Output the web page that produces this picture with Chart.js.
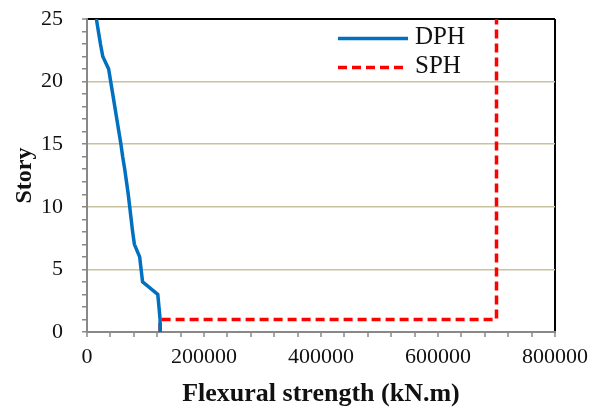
<!DOCTYPE html>
<html>
<head>
<meta charset="utf-8">
<script src="https://cdn.jsdelivr.net/npm/chart.js@4"></script>
<style>
    html, body { margin: 0; padding: 0; background: #fff; }
    #wrap { width: 593px; height: 412px; }
</style>
</head>
<body>
<div id="wrap"><canvas id="chart-flexural"></canvas></div>
<script>
// ════════════════════════════════════════
// DATA
// ════════════════════════════════════════

const SERIES_LABELS = ['DPH', 'SPH'];

// DPH: flexural strength per story (kN.m)
const dphStory = [0, 1, 2, 3, 4, 5, 6, 7, 8, 9, 10, 11, 12, 13, 14, 15, 16, 17, 18, 19, 20, 21, 22, 23, 24, 25];
const dphStrength = [125000, 125000, 123000, 121000, 95000, 92500, 90000, 81000, 78000, 75500, 73000, 70500,
    67500, 64500, 61000, 58000, 54500, 51000, 47500, 44000, 40500, 37000, 27000, 23000, 19500, 16000];

// SPH: step profile
const sphStory = [0, 1, 1, 25];
const sphStrength = [125000, 125000, 700000, 700000];

const X_TICK_STEP = 40000, X_LABEL_STEP = 200000, X_MAX = 800000;
const Y_TICK_STEP = 1, Y_LABEL_STEP = 5, Y_MAX = 25;

const SERIF = "'Liberation Serif', 'Times New Roman', serif";
const GRID_TAN = '#C9C29E';
const AXIS_GREY = '#888888';

const toPoints = (xs, ys) => xs.map((x, i) => ({ x, y: ys[i] }));

// ════════════════════════════════════════
// LEGEND (two stacked line samples, top right)
// ════════════════════════════════════════

const lineLegend = {
    id: 'lineLegend',
    afterDatasetsDraw(chart) {
        const { ctx, chartArea } = chart;
        const x0 = chartArea.right - 217;
        const x1 = chartArea.right - 147;
        const rows = [chartArea.top + 19.5, chartArea.top + 48.5];
        ctx.save();
        chart.data.datasets.forEach((ds, i) => {
            const y = rows[i];
            ctx.beginPath();
            ctx.strokeStyle = ds.borderColor;
            ctx.lineWidth = ds.borderWidth;
            ctx.setLineDash(ds.borderDash || []);
            ctx.moveTo(x0, y);
            ctx.lineTo(x1, y);
            ctx.stroke();
            ctx.setLineDash([]);
            ctx.fillStyle = '#111';
            ctx.font = `25px ${SERIF}`;
            ctx.textBaseline = 'middle';
            ctx.fillText(ds.label, x1 + 7, y - 1);
        });
        ctx.restore();
    }
};

// ════════════════════════════════════════
// CHART
// ════════════════════════════════════════

new Chart(document.getElementById('chart-flexural'), {
    type: 'scatter',
    data: {
        datasets: [
            {
                label: SERIES_LABELS[0],
                data: toPoints(dphStrength, dphStory),
                showLine: true,
                borderColor: '#0070C0',
                borderWidth: 3.5,
                pointRadius: 0,
                tension: 0,
            },
            {
                label: SERIES_LABELS[1],
                data: toPoints(sphStrength, sphStory),
                showLine: true,
                borderColor: '#FF0000',
                borderWidth: 3.5,
                borderDash: [9, 5],
                pointRadius: 0,
                tension: 0,
            }
        ]
    },
    options: {
        responsive: true,
        maintainAspectRatio: false,
        animation: false,
        layout: { padding: { top: 19, right: 38, left: 0, bottom: 0 } },
        plugins: {
            legend: { display: false },
            tooltip: { enabled: false },
        },
        scales: {
            x: {
                type: 'linear',
                min: 0,
                max: X_MAX,
                afterFit: s => {
                    s.height = 80;
                    s.paddingLeft = 0;
                    s.paddingRight = 0;
                },
                ticks: {
                    stepSize: X_TICK_STEP,
                    autoSkip: false,
                    maxRotation: 0,
                    padding: 7,
                    color: '#111',
                    font: { family: SERIF, size: 22 },
                    callback: v => v % X_LABEL_STEP === 0 ? v : '',
                },
                grid: {
                    color: c => c.tick && c.tick.value === X_MAX ? '#000' : 'transparent',
                    lineWidth: 2,
                    tickColor: AXIS_GREY,
                    tickLength: 5,
                    tickWidth: 1.5,
                },
                border: { color: AXIS_GREY, width: 2 },
                title: {
                    display: true,
                    text: 'Flexural strength (kN.m)',
                    color: '#111',
                    font: { family: SERIF, size: 26, weight: 'bold', lineHeight: 1.2 },
                    padding: { top: 0, bottom: 2 },
                },
            },
            y: {
                type: 'linear',
                min: 0,
                max: Y_MAX,
                afterFit: s => {
                    s.width = 87;
                    s.paddingTop = 0;
                    s.paddingBottom = 0;
                },
                ticks: {
                    stepSize: Y_TICK_STEP,
                    autoSkip: false,
                    padding: 19,
                    color: '#111',
                    font: { family: SERIF, size: 22 },
                    callback: v => v % Y_LABEL_STEP === 0 ? v : '',
                },
                grid: {
                    color: c => {
                        const v = c.tick && c.tick.value;
                        if (v === Y_MAX) return '#000';
                        if (v > 0 && v % Y_LABEL_STEP === 0) return GRID_TAN;
                        return 'transparent';
                    },
                    lineWidth: c => (c.tick && c.tick.value === Y_MAX) ? 2 : 1.5,
                    tickColor: AXIS_GREY,
                    tickLength: 5,
                    tickWidth: 1.5,
                },
                border: { color: AXIS_GREY, width: 2 },
                title: {
                    display: true,
                    text: 'Story',
                    color: '#111',
                    font: { family: SERIF, size: 24, weight: 'bold', lineHeight: 1.2 },
                    padding: { top: 10, bottom: 0 },
                },
            }
        }
    },
    plugins: [lineLegend]
});
</script>
</body>
</html>
